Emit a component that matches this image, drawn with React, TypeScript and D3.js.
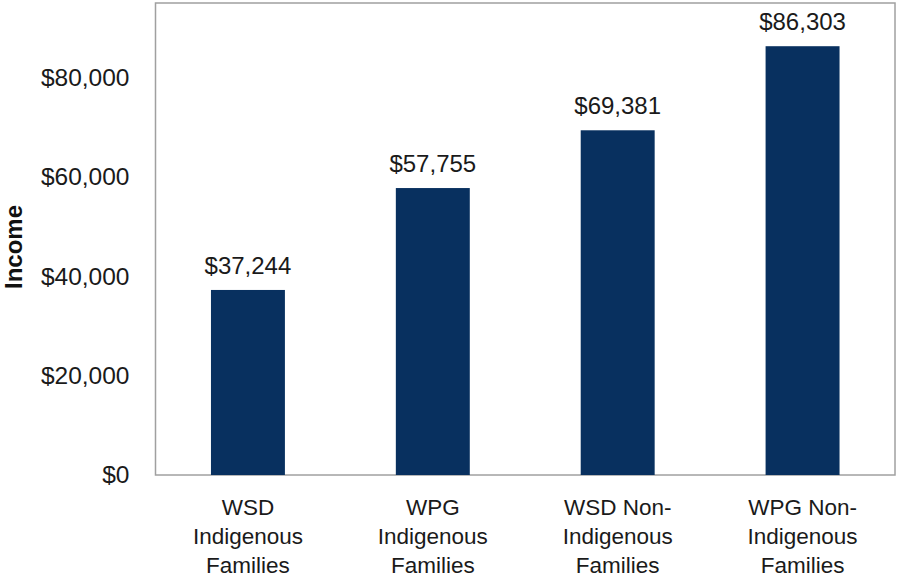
import React, { useEffect, useRef } from 'react';
import * as d3 from 'd3';

const categories = [
    ['WSD', 'Indigenous', 'Families'],
    ['WPG', 'Indigenous', 'Families'],
    ['WSD Non-', 'Indigenous', 'Families'],
    ['WPG Non-', 'Indigenous', 'Families'],
];
const incomes = [37244, 57755, 69381, 86303];
const yTicks = [0, 20000, 40000, 60000, 80000];

const FONT = '"Century Gothic", "Liberation Sans", Arial, sans-serif';

const App: React.FC = () => {
    const chartRef = useRef<SVGSVGElement>(null);

    useEffect(() => {
        const svg = d3.select(chartRef.current);
        svg.selectAll('*').remove();

        const margin = { top: 3, right: 3, bottom: 103, left: 155.5 };
        const width = 898 - margin.left - margin.right;
        const height = 578 - margin.top - margin.bottom;

        const g = svg.append('g')
            .attr('transform', `translate(${margin.left},${margin.top})`);

        const keys = categories.map(c => c.join(' '));
        const x = d3.scaleBand().domain(keys).range([0, width]).paddingInner(0.6).paddingOuter(0.3);
        const y = d3.scaleLinear().domain([0, 95000]).range([height, 0]);

        // frame
        g.append('rect')
            .attr('x', 0).attr('y', 0)
            .attr('width', width).attr('height', height)
            .attr('fill', 'none')
            .attr('stroke', '#a0a0a0')
            .attr('stroke-width', 1.5);

        g.selectAll('.bar')
            .data(incomes)
            .enter().append('rect')
            .attr('class', 'bar')
            .attr('x', (d, i) => x(keys[i])!)
            .attr('y', d => y(d))
            .attr('width', x.bandwidth())
            .attr('height', d => height - y(d))
            .attr('fill', '#08305f');

        g.selectAll('.val')
            .data(incomes)
            .enter().append('text')
            .attr('class', 'val')
            .attr('x', (d, i) => x(keys[i])! + x.bandwidth() / 2)
            .attr('y', d => y(d) - 16)
            .attr('text-anchor', 'middle')
            .attr('font-family', FONT)
            .attr('font-size', 24)
            .attr('fill', '#1a1a1a')
            .text(d => '$' + d3.format(',')(d));

        // y axis labels
        const yAxis = g.append('g')
            .call(d3.axisLeft(y).tickValues(yTicks).tickSize(0).tickPadding(26)
                .tickFormat(d => '$' + d3.format(',')(d as number)));
        yAxis.select('.domain').remove();
        yAxis.selectAll('text')
            .attr('font-family', FONT)
            .attr('font-size', 24.5)
            .attr('fill', '#1a1a1a');

        // x axis labels
        const xl = g.append('g').attr('transform', `translate(0,${height})`);
        categories.forEach((lines, i) => {
            const t = xl.append('text')
                .attr('x', x(keys[i])! + x.bandwidth() / 2)
                .attr('y', 40)
                .attr('text-anchor', 'middle')
                .attr('font-family', FONT)
                .attr('font-size', 22.5)
                .attr('fill', '#1a1a1a');
            lines.forEach((line, j) => {
                t.append('tspan')
                    .attr('x', x(keys[i])! + x.bandwidth() / 2)
                    .attr('dy', j === 0 ? 0 : 29)
                    .text(line);
            });
        });

        svg.append('text')
            .attr('transform', `translate(22,247) rotate(-90)`)
            .attr('text-anchor', 'middle')
            .attr('font-family', FONT)
            .attr('font-size', 24)
            .attr('font-weight', 'bold')
            .attr('fill', '#111')
            .text('Income');
    }, []);

    return <svg ref={chartRef} width="898" height="578" style={{ position: 'absolute', left: 0, top: 0 }}></svg>;
};

export default App;
